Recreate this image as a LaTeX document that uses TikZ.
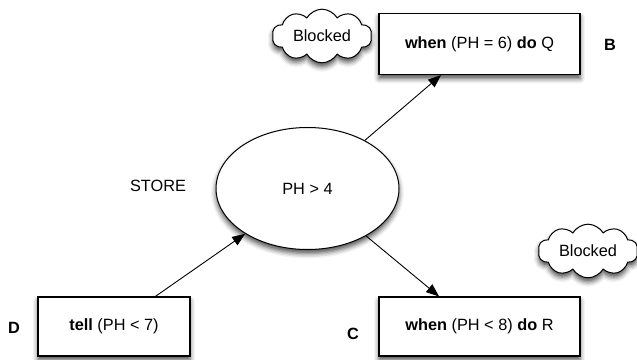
\documentclass[tikz,border=0pt]{standalone}
\usepackage{fontspec}
\setmainfont{Liberation Sans}
\usetikzlibrary{shapes.geometric,shapes.symbols,arrows.meta,shadows.blur,calc}
\begin{document}
\begin{tikzpicture}[x=1pt,y=-1pt,
  every node/.style={font=\fontsize{16.3}{19}\selectfont},
  softshadow/.style={blur shadow={shadow xshift=0pt,shadow yshift=-4pt,shadow blur radius=5pt,shadow opacity=70}},
  procbox/.style={draw,line width=1.1pt,fill=white,minimum width=201pt,minimum height=61pt,inner sep=0pt,softshadow},
  storeshape/.style={ellipse,draw,line width=1pt,fill=white,minimum width=183pt,minimum height=122pt,inner sep=0pt,softshadow},
  blockcloud/.style={cloud,cloud puffs=10,cloud puff arc=120,aspect=2,draw,line width=1pt,fill=white,minimum width=100pt,minimum height=47pt,inner sep=0pt,softshadow},
  tag/.style={font=\fontsize{16.3}{19}\selectfont\bfseries},
  link/.style={line width=0.9pt,-{Triangle[length=13pt,width=10pt]}}
]
\useasboundingbox (0,0) rectangle (637,359);

% the store and its label
\node[storeshape] (st) at (307.5,188.5) {PH > 4};
\node (storelbl) at (158,186) {STORE};

% agents
\node[procbox] (b) at (479.5,44) {\textbf{when} (PH = 6) \textbf{do} Q};
\node[procbox,minimum width=152pt,minimum height=59pt] (d) at (114,326.5) {\textbf{tell} (PH < 7)};
\node[procbox,minimum height=59pt] (c) at (479.5,326.5) {\textbf{when} (PH < 8) \textbf{do} R};

% agent letters
\node[tag] (blbl) at (610,45) {B};
\node[tag] (clbl) at (353,334) {C};
\node[tag] (dlbl) at (14,328) {D};

% blocked markers
\node[blockcloud] (cloudb) at (322,36) {Blocked};
\node[blockcloud] (cloudc) at (588,251) {Blocked};

% interactions with the store
\draw[link] ($(d.north west)!0.77!(d.north east)$) -- (st.216.6);
\draw[link] (st.40) -- ($(b.south west)!0.31!(b.south east)$);
\draw[link] (st.-39) -- ($(c.north west)!0.30!(c.north east)$);
\end{tikzpicture}
\end{document}
